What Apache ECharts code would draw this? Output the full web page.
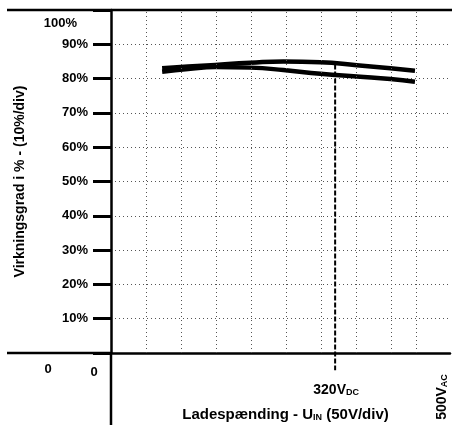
<!DOCTYPE html>
<html><head><meta charset="utf-8">
<script src="https://cdn.jsdelivr.net/npm/echarts@6/dist/echarts.min.js"></script>
<style>html,body{margin:0;padding:0;background:#fff}#c{width:457px;height:425px}</style>
</head><body><div id="c"></div>
<script>
// ---- data ----
const voltage   = [73, 110, 149, 199, 246, 299, 351, 399, 434];
const effUpper  = [83.0, 83.5, 84.0, 84.6, 85.0, 84.8, 83.9, 83.0, 82.3];
const effLower  = [82.0, 82.8, 83.4, 83.2, 82.5, 81.4, 80.6, 79.9, 79.1];
const xGridValues = [50, 100, 150, 200, 250, 300, 350, 400, 436];
const dcMarkerX = [320, 320];
const dcMarkerY = [84.1, -5];
const yMin = 0, yMax = 100, yStep = 10;
const xMin = 0, xMax = 484;
const yTitle = 'Virkningsgrad i % - (10%/div)';
const xTitle = 'Ladespænding - U{s|IN} (50V/div)';
const dcLabel = '320V{s|DC}';
const acLabel = '500V{s|AC}';
const topLabel = '100%';
const zeroLabels = ['0', '0'];

const FF = '"Liberation Sans", Arial, sans-serif';
const zip = (a, b) => a.map((v, i) => [v, b[i]]);

const chart = echarts.init(document.getElementById('c'), null, {renderer: 'canvas'});
const subRich = {s: {fontSize: 9, fontWeight: 'bold', fontFamily: FF, color: '#000', verticalAlign: 'bottom', padding: [5, 0, 0, 0]}};

chart.setOption({
  animation: false,
  backgroundColor: '#fff',
  grid: {left: 111, right: 7, top: 10, bottom: 72, containLabel: false, outerBoundsMode: 'none'},
  xAxis: {
    type: 'value', min: xMin, max: xMax,
    axisLine: {show: true, lineStyle: {color: '#000', width: 2.5}},
    axisTick: {show: false}, axisLabel: {show: false}, splitLine: {show: false},
    name: xTitle, nameLocation: 'middle', nameGap: 54,
    nameTextStyle: {fontSize: 15, fontWeight: 'bold', fontFamily: FF, color: '#000', rich: subRich, padding: [0, 0, 0, 10]}
  },
  yAxis: {
    type: 'value', min: yMin, max: yMax, interval: yStep,
    axisLine: {show: true, lineStyle: {color: '#000', width: 2.5}},
    axisTick: {show: true, length: 18, lineStyle: {color: '#000', width: 3}},
    axisLabel: {
      formatter: v => (v === yMin || v === yMax) ? '' : v + '%',
      margin: 23, fontSize: 13, fontWeight: 'bold', fontFamily: FF, color: '#000'
    },
    splitLine: {show: true, lineStyle: {color: '#555', width: 1, type: [1, 3]}},
    name: yTitle, nameLocation: 'middle', nameGap: 84, nameRotate: 90,
    nameTextStyle: {fontSize: 14, fontWeight: 'bold', fontFamily: FF, color: '#000'}
  },
  series: [
    {
      type: 'line', data: zip(voltage, effUpper), smooth: true, showSymbol: false, symbol: 'none',
      lineStyle: {color: '#000', width: 4.5}
    },
    {
      type: 'line', data: zip(voltage, effLower), smooth: true, showSymbol: false, symbol: 'none',
      lineStyle: {color: '#000', width: 4.5}
    },
    {
      type: 'line', data: zip(dcMarkerX, dcMarkerY), clip: false, showSymbol: false, symbol: 'none',
      lineStyle: {color: '#000', width: 2, type: [5, 2]},
      markLine: {
        silent: true, symbol: 'none', label: {show: false},
        lineStyle: {color: '#555', width: 1, type: [1, 3]},
        data: xGridValues.map(v => ({xAxis: v}))
      }
    }
  ]
});

const p = (x, y) => chart.convertToPixel({gridIndex: 0}, [x, y]);
const pTop = p(xMin, yMax), pOrigin = p(xMin, yMin), pRight = p(xMax, yMin);
const pDC = p(dcMarkerX[0], yMin), pAC = p(xGridValues[xGridValues.length - 1], yMin);
const txt = {fontSize: 14, fontWeight: 'bold', fontFamily: FF, fill: '#000', rich: {s: {fontSize: 9, fontWeight: 'bold', fontFamily: FF, fill: '#000', verticalAlign: 'bottom', padding: [5, 0, 0, 0]}}};
const txt13 = Object.assign({}, txt, {fontSize: 13});

chart.setOption({
  graphic: [
    {type: 'line', shape: {x1: 7, y1: pTop[1], x2: pRight[0] + 2, y2: pTop[1]}, style: {stroke: '#000', lineWidth: 2.5}},
    {type: 'line', shape: {x1: 7, y1: pOrigin[1], x2: pOrigin[0], y2: pOrigin[1]}, style: {stroke: '#000', lineWidth: 2.5}},
    {type: 'line', shape: {x1: pOrigin[0], y1: pOrigin[1], x2: pOrigin[0], y2: 425}, style: {stroke: '#000', lineWidth: 2.5}},
    {type: 'text', x: pOrigin[0] - 34, y: pTop[1] + 13, style: Object.assign({text: topLabel, align: 'right', verticalAlign: 'middle'}, txt13)},
    {type: 'text', x: 48, y: pOrigin[1] + 16, style: Object.assign({text: zeroLabels[0], align: 'center', verticalAlign: 'middle'}, txt13)},
    {type: 'text', x: pOrigin[0] - 17, y: pOrigin[1] + 19, style: Object.assign({text: zeroLabels[1], align: 'center', verticalAlign: 'middle'}, txt13)},
    {type: 'text', x: pDC[0] + 1, y: pDC[1] + 37, style: Object.assign({text: dcLabel, align: 'center', verticalAlign: 'middle'}, txt)},
    {type: 'text', x: pAC[0] + 26, y: pAC[1] + 44, rotation: Math.PI / 2, style: Object.assign({text: acLabel, align: 'center', verticalAlign: 'middle'}, txt)}
  ]
});
</script></body></html>
